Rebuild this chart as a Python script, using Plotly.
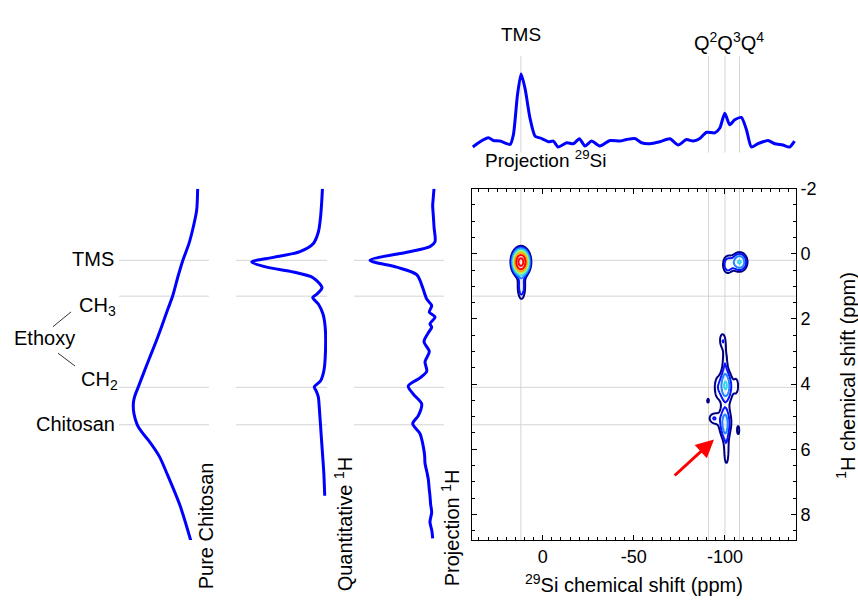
import numpy as np
import plotly.graph_objects as go

W, H = 858, 603
def px(x): return x / W
def py(y): return 1 - y / H

# ---------------- data ----------------
# 29Si projection (top trace): chemical shift (ppm) and intensity (a.u.)
si_ppm = [38.4, 34.4, 29.8, 27.1, 23.4, 17.9, 16.1, 13.9, 11.9, 9.7, 7.0, 4.2, 0.5, -3.1, -5.8,
          -8.5, -13.1, -16.8, -20.1, -23.2, -26.8, -31.4, -36.9, -42.4, -46.0, -50.6, -54.2,
          -58.8, -64.3, -69.8, -74.3, -78.9, -82.5, -86.2, -89.9, -94.4, -97.2, -99.9, -102.6,
          -105.4, -109.0, -111.8, -114.5, -118.1, -123.6, -127.3, -131.8, -135.5, -138.2]
si_int = [5.7, 11, 15, 12.3, 11.7, 8.3, 18.3, 58.3, 80, 65, 35, 16.7, 14.3, 11, 11.7,
          5.7, 10, 9, 14, 6.7, 11.7, 6.7, 12.3, 11.7, 13.3, 14.3, 10,
          9, 11, 14, 7.7, 13.3, 11.7, 14.3, 20.7, 20, 25, 40, 28.3,
          33.3, 35.7, 23.3, 5.7, 9, 12.3, 9, 7.7, 5.7, 11.7]

# Pure chitosan 1H
pc_ppm = [-2.0, -1.34, -0.83, -0.32, 0.21, 0.69, 1.29, 1.69, 2.2, 2.7, 3.2, 3.71, 4.09, 4.4,
          4.61, 4.92, 5.25, 5.47, 5.72, 6.22, 6.73, 7.73, 8.8]
pc_int = [0.126, 0.137, 0.174, 0.222, 0.292, 0.344, 0.403, 0.456, 0.522, 0.589, 0.661, 0.733,
          0.786, 0.828, 0.841, 0.833, 0.797, 0.748, 0.674, 0.552, 0.47, 0.322, 0.203]

# Quantitative 1H
qh_ppm = [-2.0, -1.18, -0.67, -0.32, -0.07, 0.11, 0.25, 0.41, 0.56, 0.74, 1.04, 1.24, 1.34,
          1.54, 1.84, 2.25, 3.2, 3.6, 3.9, 4.09, 4.2, 4.4, 4.71, 5.72, 6.73, 7.43]
qh_int = [0.05, 0.069, 0.095, 0.150, 0.297, 0.590, 0.827, 0.663, 0.370, 0.150, 0.055, 0.113,
          0.157, 0.095, 0.045, 0.02, 0.02, 0.035, 0.07, 0.14, 0.12, 0.095, 0.085, 0.06, 0.035, 0.025]

# Projection 1H
ph_ppm = [-2.0, -1.7, -1.48, -1.18, -0.8, -0.37, -0.22, -0.05, 0.2, 0.41, 0.64, 1.04, 1.39,
          1.59, 1.79, 1.94, 2.15, 2.25, 2.45, 2.7, 3.0, 3.31, 3.61, 3.81, 4.06, 4.31, 4.61,
          4.97, 5.22, 5.52, 5.92, 6.2, 6.43, 6.7, 6.93, 7.2, 7.43, 7.7, 7.94, 8.24, 8.5, 8.74]
ph_int = [0.111, 0.12, 0.126, 0.119, 0.11, 0.10, 0.156, 0.415, 0.822, 0.526, 0.303, 0.237,
          0.192, 0.137, 0.163, 0.10, 0.156, 0.137, 0.18, 0.222, 0.163, 0.211, 0.192, 0.267,
          0.397, 0.341, 0.248, 0.285, 0.348, 0.267, 0.230, 0.215, 0.211, 0.19, 0.174, 0.165,
          0.156, 0.148, 0.137, 0.156, 0.135, 0.126]

# 2D correlation peaks: 29Si centre, 1H centre, widths, amplitude
pk_si  = [12.0, 11.7, -108.0, -101.5, -100.3, -100.5, -95.5, -106.5, -100.0, -100.0,
          -100.0, -98.5, -93.5, -100.8, -90.7, -107.3]
pk_h   = [0.25, 1.0, 0.25, 0.33, 4.05, 4.1, 4.1, 4.05, 5.22, 5.2,
          3.25, 2.65, 5.05, 6.1, 4.51, 5.42]
pk_wsi = [2.2, 1.6, 2.6, 2.0, 1.7, 3.5, 1.5, 1.5, 1.4, 4.0,
          1.2, 1.4, 2.2, 1.3, 0.6, 0.6]
pk_wh  = [0.19, 0.3, 0.18, 0.2, 0.25, 0.45, 0.3, 0.3, 0.3, 0.35,
          0.4, 0.2, 0.13, 0.4, 0.07, 0.12]
pk_amp = [120, 9, 16.5, 9, 11, 5.5, 3.5, 3.5, 8, 5,
          4.8, 5.5, 5, 5.5, 5.5, 5.5]

# reference lines
si_lines = [12, -91, -100, -108]
h_lines = [0.2, 1.3, 4.1, 5.25]

# axis ticks
x_ticks = [0, -50, -100]
x_ticklabels = ['0', '-50', '-100']
y_ticks = [-2, 0, 2, 4, 6, 8]
y_ticklabels = ['-2', '0', '2', '4', '6', '8']

# ---------------- geometry ----------------
MX0, MX1, MY0, MY1 = 471.7, 796, 181.7, 539      # main map (pixels)
TY0, TY1 = 47, 145                                # top projection
panels = [(119, 209), (236, 327), (354, 444)]      # left 1H panels
XR = [39, -139]
YR = [8.79, -2]

fig = go.Figure()

# 2D map
xg = np.linspace(XR[0], XR[1], 357)
yg = np.linspace(-2, 8.8, 541)
X, Y = np.meshgrid(xg, yg)
Z = np.zeros_like(X)
for a, b, sa, sb, amp in zip(pk_si, pk_h, pk_wsi, pk_wh, pk_amp):
    Z += amp * np.exp(-0.5 * ((X - a) / sa) ** 2 - 0.5 * ((Y - b) / sb) ** 2)
Zl = np.log10(Z + 1e-3)

cs = [[0.0, '#00007f'], [1/7, '#0000ff'], [2/7, '#1a6cff'], [3/7, '#33b5ff'],
      [4/7, '#3ff2e0'], [5/7, '#c8ff30'], [6/7, '#ff9a00'], [1.0, '#ff0000']]
fig.add_trace(go.Contour(x=xg, y=yg, z=Zl, colorscale=cs, zauto=False, zmin=0.6, zmax=2.0,
                         contours=dict(coloring='lines', start=0.6, end=2.01, size=0.2),
                         line=dict(width=2), showscale=False, hoverinfo='skip',
                         xaxis='x', yaxis='y'))

blue = '#0000ff'
fig.add_trace(go.Scatter(x=si_ppm, y=si_int, mode='lines', line=dict(color=blue, width=3, shape='spline', smoothing=0.6),
                         xaxis='x5', yaxis='y5', hoverinfo='skip'))
for i, (xs, ys) in enumerate([(pc_int, pc_ppm), (qh_int, qh_ppm), (ph_int, ph_ppm)]):
    fig.add_trace(go.Scatter(x=xs, y=ys, mode='lines', line=dict(color=blue, width=3, shape='spline', smoothing=0.8),
                             xaxis='x%d' % (i + 2), yaxis='y%d' % (i + 2), hoverinfo='skip'))

font = 'Liberation Sans, Arial, sans-serif'
common_hidden = dict(visible=False, showgrid=False, zeroline=False)
layout = dict(
    width=W, height=H, margin=dict(l=0, r=0, t=0, b=0),
    paper_bgcolor='white', plot_bgcolor='white', showlegend=False,
    font=dict(family=font, color='black', size=18),
    xaxis=dict(domain=[px(MX0), px(MX1)], range=XR, anchor='y', showline=True, linecolor='black',
               linewidth=1, mirror='ticks', ticks='inside', ticklen=5, tickcolor='black',
               tickmode='array', tickvals=x_ticks, ticktext=x_ticklabels,
               minor=dict(tickmode='linear', tick0=0, dtick=5, ticklen=3, ticks='inside', tickcolor='black'),
               showgrid=False, zeroline=False, tickfont=dict(size=18)),
    yaxis=dict(domain=[py(MY1), py(MY0)], range=YR, anchor='x', side='right', showline=True,
               linecolor='black', linewidth=1, mirror='ticks', ticks='inside', ticklen=5,
               tickcolor='black', tickmode='array', tickvals=y_ticks, ticktext=y_ticklabels,
               minor=dict(tickmode='linear', tick0=0, dtick=0.5, ticklen=3, ticks='inside', tickcolor='black'),
               showgrid=False, zeroline=False, tickfont=dict(size=18)),
    xaxis5=dict(domain=[px(MX0), px(MX1)], range=XR, anchor='y5', **common_hidden),
    yaxis5=dict(domain=[py(TY1), py(TY0)], range=[0, 98], anchor='x5', **common_hidden),
)
for i, (a, b) in enumerate(panels):
    n = i + 2
    layout['xaxis%d' % n] = dict(domain=[px(a), px(b)], range=[1, 0], anchor='y%d' % n, **common_hidden)
    layout['yaxis%d' % n] = dict(domain=[py(MY1), py(MY0)], range=YR, anchor='x%d' % n, **common_hidden)
fig.update_layout(**layout)

grid = dict(color='#d4d4d4', width=1)
shapes = []
for v in si_lines:
    shapes.append(dict(type='line', xref='x', yref='y domain', x0=v, x1=v, y0=0, y1=1, line=grid, layer='below'))
    shapes.append(dict(type='line', xref='x5', yref='y5 domain', x0=v, x1=v, y0=0, y1=1, line=grid, layer='below'))
for h in h_lines:
    shapes.append(dict(type='line', xref='x domain', yref='y', x0=0, x1=1, y0=h, y1=h, line=grid, layer='below'))
    for n in (2, 3, 4):
        shapes.append(dict(type='line', xref='x%d domain' % n, yref='y%d' % n, x0=0, x1=1, y0=h, y1=h,
                           line=grid, layer='below'))
# Ethoxy connectors
for (xa, ya, xb, yb) in [(71, 307, 53, 322), (58, 349, 75, 362)]:
    shapes.append(dict(type='line', xref='paper', yref='paper', x0=px(xa), y0=py(ya), x1=px(xb), y1=py(yb),
                       line=dict(color='#333333', width=1)))
fig.update_layout(shapes=shapes)

def txt(t, x, y, xa='center', ya='middle', size=20, angle=0):
    return dict(text=t, x=px(x), y=py(y), xref='paper', yref='paper', xanchor=xa, yanchor=ya,
                showarrow=False, textangle=angle, font=dict(size=size, family=font, color='black'))

ann = [
    txt('TMS', 521, 25, size=19),
    txt('Q<sup>2</sup>Q<sup>3</sup>Q<sup>4</sup>', 729, 32, size=20),
    txt('Projection <sup>29</sup>Si', 483, 152, xa='left', size=19),
    txt('TMS', 116, 253, xa='right'),
    txt('CH<sub>3</sub>', 77, 302, xa='left'),
    txt('Ethoxy', 12, 334, xa='left'),
    txt('CH<sub>2</sub>', 79, 377, xa='left'),
    txt('Chitosan', 117, 421, xa='right'),
    txt('Pure Chitosan', 206, 525, angle=-90),
    txt('Quantitative <sup>1</sup>H', 343, 523, angle=-90),
    txt('Projection <sup>1</sup>H', 450, 527, angle=-90),
    txt('<sup>29</sup>Si chemical shift (ppm)', 633.5, 583),
    txt('<sup>1</sup>H chemical shift (ppm)', 846, 372, angle=-90),
    dict(x=-94.0, y=5.70, ax=-71.6, ay=6.85, xref='x', yref='y', axref='x', ayref='y', text='',
         showarrow=True, arrowhead=2, arrowsize=1.2, arrowwidth=3, arrowcolor='#ff0000'),
]
fig.update_layout(annotations=ann)

fig.write_html('out.html', config={'displayModeBar': False},
               post_script="document.body.style.margin='0px';")
